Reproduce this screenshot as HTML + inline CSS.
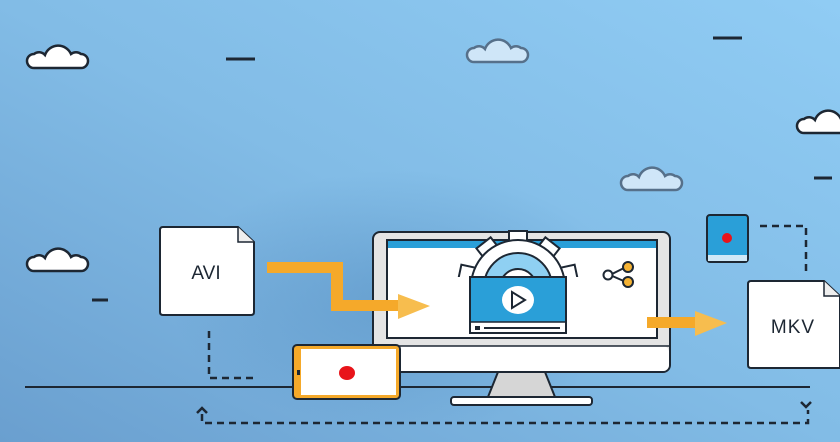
<!DOCTYPE html>
<html><head><meta charset="utf-8"><style>
html,body{margin:0;padding:0;width:840px;height:442px;overflow:hidden}
svg{display:block}
</style></head><body>
<svg width="840" height="442" viewBox="0 0 840 442" xmlns="http://www.w3.org/2000/svg">
<defs>
<linearGradient id="bg" x1="0" y1="1" x2="1" y2="0">
<stop offset="0" stop-color="#6a9fcf"/><stop offset="0.5" stop-color="#82bce6"/><stop offset="1" stop-color="#90ccf4"/>
</linearGradient>
<radialGradient id="glow" cx="0.5" cy="0.5" r="0.5">
<stop offset="0" stop-color="#3f78b0" stop-opacity="0.35"/><stop offset="1" stop-color="#3f78b0" stop-opacity="0"/>
</radialGradient>
<path id="cl" d="M8,23 H55 A7,7 0 0 0 55,9 A8,8 0 0 0 45,9 A14,14 0 0 0 19,10 A8,8 0 0 0 8,9 A7,7 0 0 0 8,23 Z"/>
<clipPath id="gc"><rect x="440" y="220" width="160" height="57"/></clipPath>
</defs>
<rect width="840" height="442" fill="url(#bg)"/>
<ellipse cx="400" cy="300" rx="230" ry="130" fill="url(#glow)"/>

<g stroke="#1d2733" stroke-width="2.5" fill="#fff">
<use href="#cl" x="26" y="45"/>
<use href="#cl" x="26" y="248"/>
<use href="#cl" x="796" y="110"/>
</g>
<g stroke="#56708a" stroke-width="2.5" fill="#cfe6f8">
<use href="#cl" x="466" y="39"/>
<use href="#cl" x="620" y="167"/>
</g>
<g stroke="#1d2733" stroke-width="3">
<line x1="226" y1="59" x2="255" y2="59"/>
<line x1="713" y1="38" x2="742" y2="38"/>
<line x1="814" y1="178" x2="832" y2="178"/>
<line x1="92" y1="300" x2="108" y2="300"/>
</g>

<line x1="25" y1="387" x2="810" y2="387" stroke="#1d2733" stroke-width="2"/>
<g fill="none" stroke="#1d2733" stroke-width="2.5" stroke-dasharray="7,5">
<polyline points="209,331 209,378 256,378"/>
<polyline points="202,414 202,423 808,423 808,410"/>
<polyline points="760,226 806,226 806,273"/>
</g>
<polyline points="197,413 202,408 207,413" fill="none" stroke="#1d2733" stroke-width="2.5"/>
<polyline points="801,402 806,407 811,402" fill="none" stroke="#1d2733" stroke-width="2.5"/>

<path d="M163,227 H238 L254,242 V312 Q254,315 251,315 H163 Q160,315 160,312 V230 Q160,227 163,227 Z" fill="#fff" stroke="#1d2733" stroke-width="2"/>
<path d="M238,227 V242 H254" fill="#eee" stroke="#1d2733" stroke-width="1.5"/>
<text x="206" y="279" font-family="Liberation Sans, sans-serif" font-size="19" text-anchor="middle" fill="#1d2733">AVI</text>

<rect x="373" y="232" width="297" height="140" rx="7" fill="#e4e4e4" stroke="#1d2733" stroke-width="2"/>
<rect x="374" y="346" width="295" height="25" rx="6" fill="#fff"/>
<line x1="374" y1="346" x2="669" y2="346" stroke="#1d2733" stroke-width="1.5"/>
<rect x="387" y="240" width="270" height="98" fill="#fff" stroke="#1d2733" stroke-width="2"/>
<rect x="388" y="241" width="268" height="7" fill="#2a9fd8"/>
<path d="M498,372 H545 L555,397 H488 Z" fill="#d6d6d6" stroke="#1d2733" stroke-width="2"/>
<rect x="451" y="397" width="141" height="8" rx="3" fill="#fff" stroke="#1d2733" stroke-width="2"/>

<g fill="#f5a92a">
<rect x="267" y="262" width="76" height="11"/>
<rect x="331" y="262" width="12" height="49"/>
<rect x="331" y="300" width="70" height="11"/>
<polygon points="398,294 430,306 398,319" fill="#f7bd4e"/>
</g>

<g clip-path="url(#gc)">
<g transform="translate(518,287)" fill="#fff" stroke="#1d2733" stroke-width="2">
<rect x="-9" y="-56" width="18" height="16"/>
<rect x="-9" y="-56" width="18" height="16" transform="rotate(38)"/>
<rect x="-9" y="-56" width="18" height="16" transform="rotate(-38)"/>
<rect x="-10" y="-60" width="20" height="18" transform="rotate(78)"/>
<rect x="-10" y="-60" width="20" height="18" transform="rotate(-78)"/>
<circle r="47"/>
<circle r="34" fill="#8fd0f2"/>
<circle r="18" fill="#fff"/>
<circle r="10" fill="#9aa7b0"/>
</g>
</g>
<rect x="470" y="277" width="96" height="56" fill="#2a9fd8" stroke="#1d2733" stroke-width="2"/>
<rect x="471" y="322" width="94" height="10" fill="#fff"/>
<line x1="470" y1="322" x2="566" y2="322" stroke="#1d2733" stroke-width="1.5"/>
<line x1="484" y1="328" x2="560" y2="328" stroke="#1d2733" stroke-width="2"/>
<rect x="475" y="326" width="5" height="4" fill="#1d2733"/>
<ellipse cx="518" cy="300" rx="16" ry="14" fill="#fff"/>
<polygon points="512,292 512,308 525,300" fill="none" stroke="#1d2733" stroke-width="2"/>

<g stroke="#1d2733" stroke-width="2">
<line x1="610" y1="275" x2="626" y2="267"/>
<line x1="610" y1="275" x2="626" y2="282"/>
<circle cx="608" cy="275" r="4.5" fill="#fff"/>
<circle cx="628" cy="267" r="5" fill="#f5b335"/>
<circle cx="628" cy="282" r="5" fill="#f5b335"/>
</g>

<rect x="647" y="317" width="52" height="11" fill="#f5a92a"/>
<polygon points="695,311 727,323 695,336" fill="#f7bd4e"/>

<path d="M751,281 H824 L840,296 V368 H751 Q748,368 748,365 V284 Q748,281 751,281 Z" fill="#fff" stroke="#1d2733" stroke-width="2"/>
<path d="M824,281 V296 H840" fill="#eee" stroke="#1d2733" stroke-width="1.5"/>
<text x="793" y="333" font-family="Liberation Sans, sans-serif" font-size="19" text-anchor="middle" fill="#1d2733" letter-spacing="1">MKV</text>

<rect x="707" y="215" width="41" height="47" rx="3" fill="#2a9fd8" stroke="#1d2733" stroke-width="2"/>
<rect x="708" y="255" width="39" height="6" fill="#cfe8f7"/>
<circle cx="727" cy="238" r="5" fill="#e8141a"/>

<rect x="293" y="345" width="107" height="54" rx="4" fill="#f5a92a" stroke="#1d2733" stroke-width="2"/>
<rect x="301" y="349" width="95" height="46" fill="#fff"/>
<rect x="297" y="370" width="3" height="5" fill="#1d2733"/>
<ellipse cx="347" cy="373" rx="8" ry="7" fill="#e8141a"/>
</svg>
</body></html>
